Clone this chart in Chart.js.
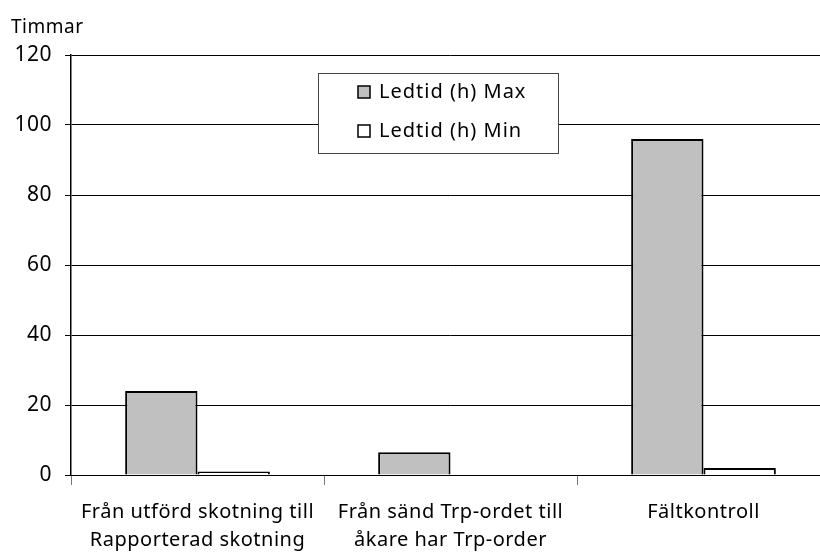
<!DOCTYPE html>
<html>
<head>
<meta charset="utf-8">
<script src="https://cdn.jsdelivr.net/npm/chart.js@4"></script>
<style>
 html,body{margin:0;padding:0;background:#fff;overflow:hidden;}
 #wrap{width:830px;height:553px;}
</style>
</head>
<body>
<div id="wrap"><canvas id="chart" width="830" height="553"></canvas></div>
<script>
// data
var categories = [
    ["Från utförd skotning till", "Rapporterad skotning"],
    ["Från sänd Trp-ordet till", "åkare har Trp-order"],
    "Fältkontroll"
];
var maxValues = [24, 6.5, 96];
var minValues = [1, 0, 2];
var seriesNames = ["Ledtid (h) Max", "Ledtid (h) Min"];
var yTicks = [0, 20, 40, 60, 80, 100, 120];
var yTitle = "Timmar";

var FONT = "'Noto Sans', sans-serif";

// the reference text is a bit spaced out
var spacing = {
    id: "spacing",
    beforeDraw: function(chart){
        chart.ctx.letterSpacing = "0.5px";
    }
};

// legend box with frame + axis title drawn by hand
var boxLegend = {
    id: "boxLegend",
    afterDraw: function(chart){
        var ctx = chart.ctx;
        ctx.save();
        ctx.letterSpacing = "0.5px";
        ctx.font = "19px " + FONT;
        ctx.fillStyle = "#000";
        ctx.textBaseline = "middle";
        ctx.textAlign = "left";
        ctx.fillText(yTitle, 11, 28);

        var x = 318, y = 73, w = 240, h = 80;
        ctx.fillStyle = "#fff";
        ctx.fillRect(x, y, w, h);
        ctx.strokeStyle = "#444";
        ctx.lineWidth = 1;
        ctx.strokeRect(x + 0.5, y + 0.5, w, h);
        var ds = chart.data.datasets;
        for(var i=0;i<ds.length;i++){
            var cy = y + 19 + i*39;
            ctx.fillStyle = ds[i].backgroundColor;
            ctx.fillRect(358, cy - 6, 12, 12);
            ctx.strokeStyle = "#000";
            ctx.lineWidth = 1.5;
            ctx.strokeRect(358, cy - 6, 12, 12);
            ctx.fillStyle = "#000";
            ctx.font = "20px " + FONT;
            ctx.letterSpacing = "1px";
            ctx.fillText(ds[i].label, 379, cy);
        }
        ctx.restore();
    }
};

var ctx_chart = document.getElementById("chart").getContext("2d");
var chart = new Chart(ctx_chart, {
    type: "bar",
    data: {
        labels: categories,
        datasets: [{
            label: seriesNames[0],
            data: maxValues,
            backgroundColor: "#c0c0c0",
            borderColor: "#000",
            borderWidth: 2,
            categoryPercentage: 0.572,
            barPercentage: 1.0
        },{
            label: seriesNames[1],
            data: minValues,
            backgroundColor: "#ffffff",
            borderColor: "#000",
            borderWidth: 2,
            categoryPercentage: 0.572,
            barPercentage: 1.0
        }]
    },
    options: {
        responsive: false,
        animation: false,
        layout: { padding: { top: 55, left: 0, right: 0, bottom: 0 } },
        plugins: {
            legend: { display: false },
            tooltip: { enabled: false }
        },
        scales: {
            x: {
                afterFit: function(scale){ scale.height = 78; },
                grid: {
                    offset: true,
                    drawOnChartArea: false,
                    tickLength: 10,
                    color: "#777"
                },
                border: { display: true, color: "#000" },
                ticks: {
                    color: "#000",
                    font: { family: FONT, size: 20, lineHeight: 1.4 },
                    padding: 13,
                    maxRotation: 0,
                    autoSkip: false
                }
            },
            y: {
                min: 0,
                max: 120,
                afterFit: function(scale){ scale.width = 71; },
                afterBuildTicks: function(scale){
                    scale.ticks = yTicks.map(function(v){ return { value: v }; });
                },
                grid: {
                    color: "#000",
                    lineWidth: 1,
                    tickLength: 6
                },
                border: { display: true, color: "#000", width: 1.5 },
                ticks: {
                    color: "#000",
                    font: { family: FONT, size: 21 },
                    padding: 13
                }
            }
        }
    },
    plugins: [spacing, boxLegend]
});
</script>
</body>
</html>
